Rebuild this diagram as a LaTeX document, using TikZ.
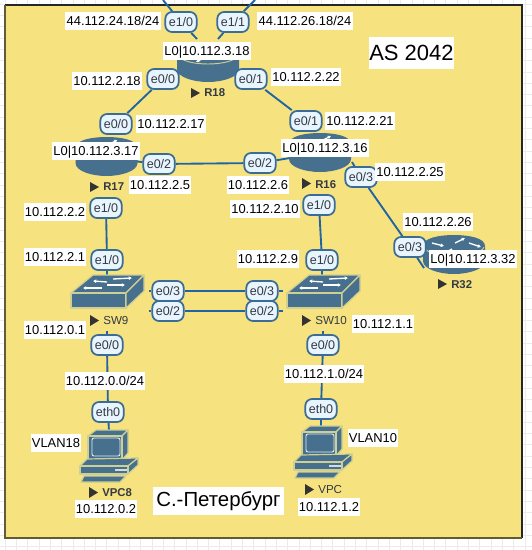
\documentclass[tikz,border=0pt]{standalone}
\usepackage{fontspec}
\setmainfont{Liberation Sans}
\usetikzlibrary{arrows.meta}
\pgfdeclarelayer{gridlayer}
\pgfdeclarelayer{linklayer}
\pgfdeclarelayer{iconlayer}
\pgfsetlayers{gridlayer,linklayer,iconlayer,main}
\definecolor{areafill}{HTML}{F6E27F}
\definecolor{linkblue}{HTML}{1F65A3}
\definecolor{pillline}{HTML}{3A6C96}
\definecolor{pillfill}{HTML}{E8F4FE}
\definecolor{icondark}{HTML}{47708F}
\definecolor{iconedge}{HTML}{CDCF93}
\definecolor{darktext}{HTML}{333A42}
\tikzset{
  x=0.75pt,y=-0.75pt,
  pill/.style={draw=pillline,fill=pillfill,line width=1.3pt,rounded corners=5pt,
    minimum width=23.5pt,minimum height=15pt,inner sep=0pt,text=darktext,
    font=\fontsize{9.4}{11}\selectfont},
  iplabel/.style={fill=white,inner xsep=1pt,inner ysep=0pt,minimum height=13pt,
    text height=7pt,text depth=0pt,text=black,font=\fontsize{9.7}{11}\selectfont},
  biglabel/.style={fill=white,inner sep=0pt,text=black,font=\fontsize{16.5}{20}\selectfont},
  citylabel/.style={biglabel,font=\fontsize{15.3}{20}\selectfont},
  devname/.style={anchor=west,inner sep=0pt,text=darktext,font=\fontsize{8.7}{10}\selectfont},
  devnamebold/.style={devname,font=\fontsize{8.5}{10}\selectfont\bfseries},
  playmark/.style={fill=black!80},
  netlink/.style={draw=linkblue,line width=1.4pt},
  whitearrow/.style={draw=white,line width=1pt,-{Latex[length=2.4pt,width=3pt]}},
  pics/routericon/.style={code={
    \fill[icondark] (-31,11) -- (-31,26) .. controls (-31,34) and (-15,39) .. (0,39)
       .. controls (15,39) and (31,34) .. (31,26) -- (31,11)
       .. controls (31,3) and (15,0) .. (0,0) .. controls (-15,0) and (-31,3) .. (-31,11) -- cycle;
    \draw[iconedge,line width=.7pt] (-30,12) .. controls (-28,18) and (-14,21) .. (0,21)
       .. controls (14,21) and (28,18) .. (30,12);
    \draw[whitearrow] (-22,8) -- (-10,11);
    \draw[whitearrow] (1,8) -- (11,3);
    \draw[whitearrow] (15,8) -- (27,12);
    \draw[whitearrow] (-2,14) -- (-12,19);
  }},
  iconbody/.style={fill=icondark,draw=iconedge,line width=.9pt,line join=round},
  pics/switchicon/.style={code={
    \path[iconbody] (0,0) -- (22,-18) -- (73,-18) -- (55,0) -- cycle;
    \path[iconbody] (0,0) -- (55,0) -- (55,15) -- (0,15) -- cycle;
    \path[iconbody] (55,0) -- (73,-18) -- (73,-2) -- (55,15) -- cycle;
    \draw[whitearrow] (36,-11) -- (22,-12);
    \draw[whitearrow] (42,-14) -- (61,-15);
    \draw[whitearrow] (31,-5) -- (12,-5);
    \draw[whitearrow] (36,-8) -- (54,-8);
  }},
  pics/pcicon/.style={code={
    \path[iconbody] (88,436) -- (96,430) -- (128,430) -- (122,436) -- cycle;
    \path[iconbody] (122,436) -- (128,430) -- (128,453) -- (122,460) -- cycle;
    \path[iconbody] (88,436) rectangle (122,460);
    \draw[white!85!icondark,line width=.7pt,rounded corners=1.5pt] (92,438) rectangle (120,456);
    \path[iconbody] (87,459) -- (138,458) -- (128,466) -- (80,466) -- cycle;
    \path[iconbody] (128,466) -- (138,458) -- (138,465) -- (128,474) -- cycle;
    \path[iconbody] (80,466) rectangle (128,474);
    \fill[white!75!icondark] (115,469) rectangle (127,471);
    \path[iconbody] (84,476) -- (126,476) -- (120,482) -- (81,482) -- cycle;
  }},
}
\begin{document}
\begin{tikzpicture}
\useasboundingbox (0,0) rectangle (532,550);
\begin{pgfonlayer}{gridlayer}
  \fill[white] (0,0) rectangle (532,550);
  \foreach \gx in {5,16.3,...,532} {\draw[black!8,line width=.4pt] (\gx,0) -- (\gx,550);}
  \foreach \gy in {4,15.3,...,550} {\draw[black!8,line width=.4pt] (0,\gy) -- (532,\gy);}
  \fill[areafill] (5,5) rectangle (522,538);
  \draw[black!85,line width=.8pt] (5,5) -- (522,5) -- (522,538);
  \draw[black!60!areafill,line width=1.2pt] (5,5) -- (5,538) -- (522,538);
\end{pgfonlayer}

% device anchors
\coordinate (R18) at (208,65);
\coordinate (R17) at (106.5,158);
\coordinate (R16) at (320,153);
\coordinate (R32) at (454,255);
\coordinate (SW9) at (107,285);
\coordinate (SW10) at (322,285);
\coordinate (VPC8) at (109,432);
\coordinate (VPC) at (321,428);
\coordinate (cloudA) at (163,0);
\coordinate (cloudB) at (255,0);
\coordinate (r18a) at (197,39);
\coordinate (r18b) at (218,39);
\coordinate (r16c) at (352,162);
\coordinate (r32a) at (424,268);
\coordinate (sw9t) at (149,291);
\coordinate (sw9u) at (149,311);
\coordinate (sw10t) at (283,291);
\coordinate (sw10u) at (283,311);
\coordinate (sw9b) at (107,331);
\coordinate (sw10b) at (323,331);

\begin{pgfonlayer}{iconlayer}
  \pic at (208,43) {routericon};
  \pic at (106.5,137) {routericon};
  \pic at (320,133) {routericon};
  \pic at (454,235) {routericon};
  \pic at (71,293) {switchicon};
  \pic at (287,293) {switchicon};
  \pic at (0,0) {pcicon};
  \pic at (214,-4) {pcicon};
\end{pgfonlayer}

% interface pills
\node[pill] (a1) at (181,22) {e1/0};
\node[pill] (a2) at (233,22) {e1/1};
\node[pill] (a3) at (163,79) {e0/0};
\node[pill] (a4) at (251,79) {e0/1};
\node[pill] (b1) at (116,124) {e0/0};
\node[pill] (b2) at (159,164) {e0/2};
\node[pill] (b3) at (106,208) {e1/0};
\node[pill] (c1) at (306,121) {e0/1};
\node[pill] (c2) at (260,163) {e0/2};
\node[pill] (c3) at (361,177) {e0/3};
\node[pill] (c4) at (319,205) {e1/0};
\node[pill] (d1) at (410,247) {e0/3};
\node[pill] (e1) at (107,260) {e1/0};
\node[pill] (e2) at (168,291) {e0/3};
\node[pill] (e3) at (168,311) {e0/2};
\node[pill] (e4) at (107,345) {e0/0};
\node[pill] (f1) at (322,260) {e1/0};
\node[pill] (f2) at (262,291) {e0/3};
\node[pill] (f3) at (262,311) {e0/2};
\node[pill] (f4) at (323,345) {e0/0};
\node[pill] (g1) at (108,412) {eth0};
\node[pill] (g2) at (321,409) {eth0};

\begin{pgfonlayer}{linklayer}
  \draw[netlink] (cloudA) -- (a1) -- (r18a);
  \draw[netlink] (cloudB) -- (a2) -- (r18b);
  \draw[netlink] (R18) -- (a3) -- (b1);
  \draw[netlink] (R18) -- (a4) -- (c1);
  \draw[netlink] (R17) -- (b2) -- (c2) -- (R16);
  \draw[netlink] (b3) -- (e1) -- (SW9);
  \draw[netlink] (c4) -- (f1) -- (SW10);
  \draw[netlink] (r16c) -- (c3) -- (d1) -- (r32a);
  \draw[netlink] (sw9t) -- (e2) -- (f2) -- (sw10t);
  \draw[netlink] (sw9u) -- (e3) -- (f3) -- (sw10u);
  \draw[netlink] (sw9b) -- (e4) -- (g1) -- (VPC8);
  \draw[netlink] (sw10b) -- (f4) -- (g2) -- (VPC);
\end{pgfonlayer}

% device names
\fill[playmark] (191,88) -- (200,93) -- (191,98) -- cycle;
\node[devnamebold] (nR18) at (204,93) {R18};
\fill[playmark] (90,182) -- (99,187) -- (90,192) -- cycle;
\node[devnamebold] (nR17) at (103,187) {R17};
\fill[playmark] (302,178) -- (311,183.500) -- (302,189) -- cycle;
\node[devnamebold] (nR16) at (315,185) {R16};
\fill[playmark] (438,279) -- (447,284) -- (438,289) -- cycle;
\node[devnamebold] (nR32) at (451,285) {R32};
\fill[playmark] (90,315) -- (99,320.500) -- (90,326) -- cycle;
\node[devname] (nSW9) at (103,320.500) {SW9};
\fill[playmark] (302,315) -- (311,320.500) -- (302,326) -- cycle;
\node[devname] (nSW10) at (315,321) {SW10};
\fill[playmark] (89,487) -- (98,492.500) -- (89,498) -- cycle;
\node[devnamebold] (nVPC8) at (102,493) {VPC8};
\fill[playmark] (305,484) -- (314,489.500) -- (305,495) -- cycle;
\node[devname] (nVPC) at (318,490) {VPC};

% address labels
\node[iplabel] (l1) at (113,21) {44.112.24.18/24};
\node[iplabel] (l2) at (305,21) {44.112.26.18/24};
\node[iplabel] (l3) at (207,51) {L0|10.112.3.18};
\node[iplabel] (l4) at (107,81) {10.112.2.18};
\node[iplabel] (l5) at (306,77) {10.112.2.22};
\node[iplabel] (l6) at (171,124) {10.112.2.17};
\node[iplabel] (l7) at (360,121) {10.112.2.21};
\node[iplabel] (l8) at (96,151) {L0|10.112.3.17};
\node[iplabel] (l9) at (325,148) {L0|10.112.3.16};
\node[iplabel] (l10) at (410,172) {10.112.2.25};
\node[iplabel] (l11) at (160,185) {10.112.2.5};
\node[iplabel] (l12) at (258,185) {10.112.2.6};
\node[iplabel] (l13) at (55,212) {10.112.2.2};
\node[iplabel] (l14) at (265,209) {10.112.2.10};
\node[iplabel] (l15) at (438,222) {10.112.2.26};
\node[iplabel] (l16) at (55,257) {10.112.2.1};
\node[iplabel] (l17) at (268,259) {10.112.2.9};
\node[iplabel] (l18) at (473,259) {L0|10.112.3.32};
\node[iplabel] (l19) at (55,330) {10.112.0.1};
\node[iplabel] (l20) at (383,324) {10.112.1.1};
\node[iplabel] (l21) at (105,381) {10.112.0.0/24};
\node[iplabel] (l22) at (324,374) {10.112.1.0/24};
\node[iplabel] (l23) at (56,443) {VLAN18};
\node[iplabel] (l24) at (373,438) {VLAN10};
\node[iplabel] (l25) at (106,509) {10.112.0.2};
\node[iplabel] (l26) at (329,507) {10.112.1.2};
\node[biglabel,minimum width=64pt,minimum height=24pt] (asname) at (411.5,53) {AS 2042};
\node[citylabel,minimum width=98pt,minimum height=21pt] (cityname) at (218.5,501) {С.-Петербург};
\end{tikzpicture}
\end{document}
